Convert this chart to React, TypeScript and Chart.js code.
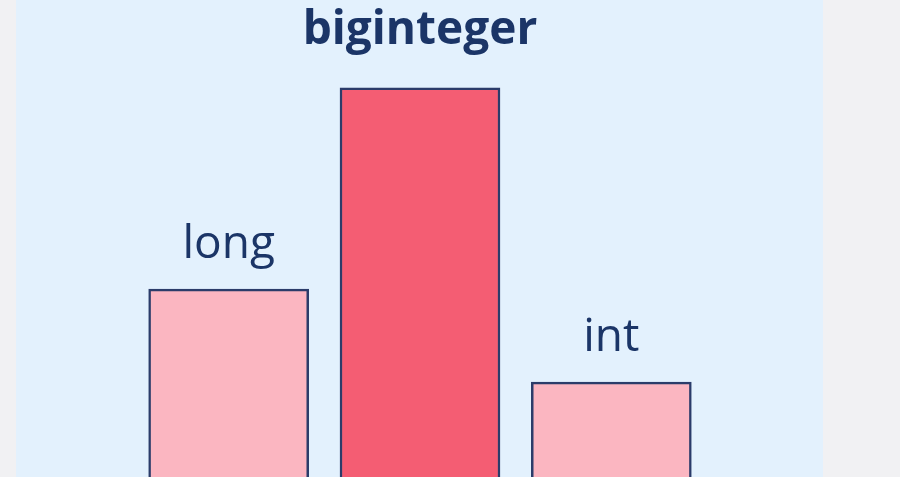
import React, { useEffect, useRef } from "react";
import { Chart, registerables } from "chart.js";

Chart.register(...registerables);

const categories = ["long", "biginteger", "int"];
const values = [39.4, 81.6, 19.9];
const highlighted = [false, true, false];
const yMin = 0;
const yMax = 100;

const PINK = "#fbb6c1";
const RED = "#f45d73";
const NAVY = "#1b3567";
const BORDER = "#2b3c6a";

const labelPlugin = {
  id: "barLabels",
  afterDatasetsDraw(chart: any) {
    const ctx = chart.ctx;
    const meta = chart.getDatasetMeta(0);
    ctx.save();
    ctx.fillStyle = NAVY;
    ctx.textAlign = "center";
    ctx.textBaseline = "alphabetic";
    meta.data.forEach((bar: any, i: number) => {
      const bold = highlighted[i];
      ctx.font = `${bold ? "bold " : ""}${bold ? 46 : 46}px "Open Sans", "Noto Sans", sans-serif`;
      const gap = bold ? 44 : 31;
      ctx.fillText(categories[i], bar.x, bar.y - gap);
    });
    ctx.restore();
  },
};

export default function App() {
  const ref = useRef<HTMLCanvasElement | null>(null);
  useEffect(() => {
    if (!ref.current) return;
    const chart = new Chart(ref.current, {
      type: "bar",
      data: {
        labels: categories,
        datasets: [
          {
            data: values,
            backgroundColor: highlighted.map((h) => (h ? RED : PINK)),
            borderColor: BORDER,
            borderWidth: 2.5,
            barThickness: 160,
          },
        ],
      },
      options: {
        animation: false,
        responsive: true,
        maintainAspectRatio: false,
        layout: { padding: { left: 133, right: 193, top: 0, bottom: 0 } },
        plugins: { legend: { display: false }, tooltip: { enabled: false } },
        scales: {
          x: { display: false },
          y: { display: false, min: yMin, max: yMax },
        },
      },
      plugins: [labelPlugin],
    });
    return () => chart.destroy();
  }, []);
  return (
    <div
      style={{
        position: "fixed",
        left: 0,
        top: 0,
        width: 900,
        height: 477,
        background: "#f1f1f3",
        overflow: "hidden",
      }}
    >
      <div
        style={{
          position: "absolute",
          left: 16,
          top: 0,
          width: 807,
          height: 477,
          background: "#e3f1fd",
        }}
      />
      <div style={{ position: "absolute", left: 0, top: 0, width: 900, height: 477 }}>
        <canvas ref={ref} />
      </div>
    </div>
  );
}
